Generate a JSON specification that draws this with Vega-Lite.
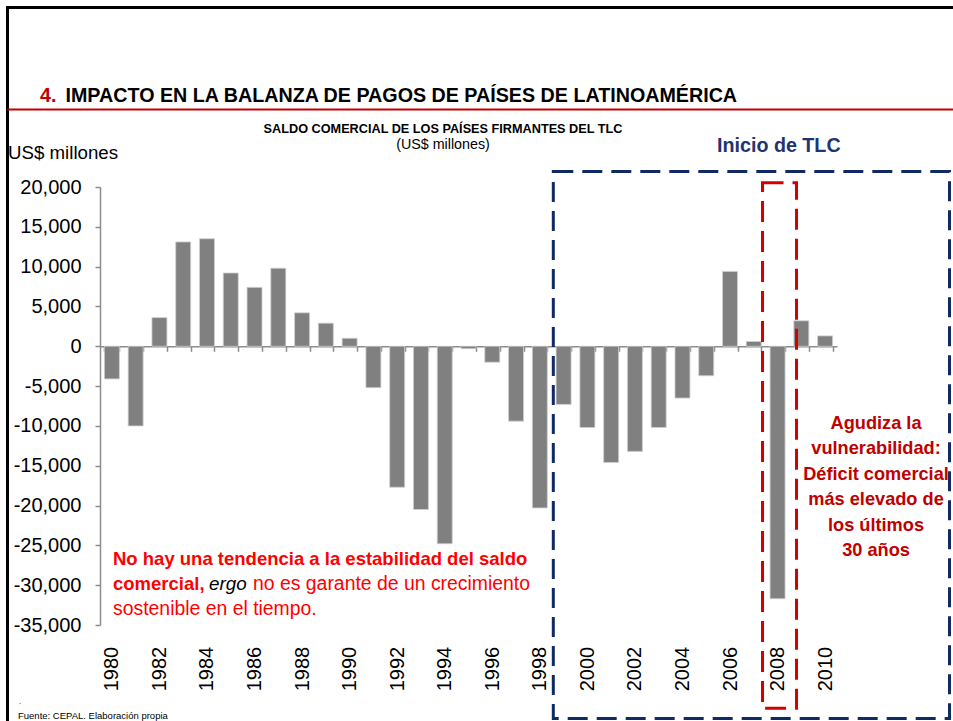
{
  "$schema": "https://vega.github.io/schema/vega-lite/v6.json",
  "width": 737,
  "height": 438,
  "autosize": {"type": "none"},
  "padding": {"left": 100, "top": 187, "right": 116, "bottom": 96},
  "background": "white",
  "config": {
    "view": {"stroke": null},
    "font": "Liberation Sans"
  },
  "resolve": {"scale": {"x": "independent"}, "axis": {"y": "independent"}},
  "layer": [
    {
      "data": {"values": [
        {"year": 1980, "saldo": -4100}, {"year": 1981, "saldo": -10000}, {"year": 1982, "saldo": 3600},
        {"year": 1983, "saldo": 13100}, {"year": 1984, "saldo": 13500}, {"year": 1985, "saldo": 9200},
        {"year": 1986, "saldo": 7400}, {"year": 1987, "saldo": 9800}, {"year": 1988, "saldo": 4200},
        {"year": 1989, "saldo": 2900}, {"year": 1990, "saldo": 1000}, {"year": 1991, "saldo": -5200},
        {"year": 1992, "saldo": -17700}, {"year": 1993, "saldo": -20500}, {"year": 1994, "saldo": -24800},
        {"year": 1995, "saldo": -300}, {"year": 1996, "saldo": -2000}, {"year": 1997, "saldo": -9400},
        {"year": 1998, "saldo": -20300}, {"year": 1999, "saldo": -7300}, {"year": 2000, "saldo": -10200},
        {"year": 2001, "saldo": -14600}, {"year": 2002, "saldo": -13200}, {"year": 2003, "saldo": -10200},
        {"year": 2004, "saldo": -6500}, {"year": 2005, "saldo": -3700}, {"year": 2006, "saldo": 9400},
        {"year": 2007, "saldo": 600}, {"year": 2008, "saldo": -31700}, {"year": 2009, "saldo": 3200},
        {"year": 2010, "saldo": 1300}
      ]},
      "mark": {"type": "bar", "color": "#808080", "stroke": "#cfcfcf", "strokeWidth": 0.8},
      "encoding": {
        "x": {
          "field": "year", "type": "ordinal",
          "scale": {"paddingInner": 0.37, "paddingOuter": 0.185},
          "axis": {
            "title": null, "orient": "bottom", "offset": -278.7,
            "domainColor": "#8c8c8c", "domainWidth": 1.5,
            "tickBand": "extent", "tickSize": 5, "tickColor": "#8c8c8c", "tickWidth": 1.5,
            "labelAngle": -90, "labelAlign": "right", "labelBaseline": "middle",
            "labelFont": "Liberation Sans", "labelFontSize": 20, "labelColor": "black",
            "labelPadding": 295, "labelOverlap": false,
            "labelExpr": "datum.value % 2 == 0 ? datum.label : ''"
          }
        },
        "y": {
          "field": "saldo", "type": "quantitative",
          "scale": {"domain": [-35000, 20000], "nice": false, "zero": false},
          "axis": {
            "title": null, "grid": false, "orient": "left",
            "values": [20000, 15000, 10000, 5000, 0, -5000, -10000, -15000, -20000, -25000, -30000, -35000],
            "format": ",.0f",
            "labelExpr": "replace(datum.label, '\u2212', '-')",
            "labelOverlap": false,
            "domainColor": "#8c8c8c", "domainWidth": 1.5,
            "tickColor": "#8c8c8c", "tickSize": 5, "tickWidth": 1.5,
            "labelFont": "Liberation Sans", "labelFontSize": 20, "labelColor": "black", "labelPadding": 14
          }
        }
      }
    },
    {
      "data": {"values": [{}]},
      "layer": [
        {
          "mark": {"type": "rule", "color": "black", "strokeWidth": 3},
          "encoding": {
            "x": {"datum": 1975.546, "type": "quantitative", "scale": {"domain": [1979.5, 2010.5], "nice": false, "zero": false}, "axis": null},
            "x2": {"datum": 2016.2},
            "y": {"datum": 42540, "type": "quantitative", "axis": null}
          }
        },
        {
          "mark": {"type": "rule", "color": "black", "strokeWidth": 3},
          "encoding": {
            "x": {"datum": 1975.609, "type": "quantitative", "scale": {"domain": [1979.5, 2010.5], "nice": false, "zero": false}, "axis": null},
            "y": {"datum": 42700, "type": "quantitative", "axis": null},
            "y2": {"datum": -47054}
          }
        },
        {
          "mark": {"type": "rule", "color": "#c00000", "strokeWidth": 2},
          "encoding": {
            "x": {"datum": 1975.6, "type": "quantitative", "scale": {"domain": [1979.5, 2010.5], "nice": false, "zero": false}, "axis": null},
            "x2": {"datum": 2016.2},
            "y": {"datum": 29732, "type": "quantitative", "axis": null}
          }
        },
        {
          "mark": {"type": "rect", "fillOpacity": 0, "stroke": "#102a64", "strokeWidth": 3, "strokeDash": [20, 9]},
          "encoding": {
            "x": {"datum": 1998.567, "type": "quantitative", "scale": {"domain": [1979.5, 2010.5], "nice": false, "zero": false}, "axis": null},
            "x2": {"datum": 2015.232},
            "y": {"datum": 21946, "type": "quantitative", "axis": null},
            "y2": {"datum": -46740}
          }
        },
        {
          "mark": {"type": "rect", "fillOpacity": 0, "stroke": "#d40000", "strokeWidth": 3, "strokeDash": [21, 9]},
          "encoding": {
            "x": {"datum": 2007.367, "type": "quantitative", "scale": {"domain": [1979.5, 2010.5], "nice": false, "zero": false}, "axis": null},
            "x2": {"datum": 2008.797},
            "y": {"datum": 20540, "type": "quantitative", "axis": null},
            "y2": {"datum": -45460}
          }
        },
        {
          "mark": {"type": "text", "text": "4.", "font": "Liberation Sans", "fontSize": 19.7, "fontWeight": "bold", "color": "#c00000", "align": "left", "baseline": "alphabetic"},
          "encoding": {
            "x": {"datum": 1976.976, "type": "quantitative", "scale": {"domain": [1979.5, 2010.5], "nice": false, "zero": false}, "axis": null},
            "y": {"datum": 30673, "type": "quantitative", "axis": null}
          }
        },
        {
          "mark": {"type": "text", "text": "IMPACTO EN LA BALANZA DE PAGOS DE PAÍSES DE LATINOAMÉRICA", "font": "Liberation Sans", "fontSize": 19.7, "fontWeight": "bold", "color": "black", "align": "left", "baseline": "alphabetic"},
          "encoding": {
            "x": {"datum": 1978.049, "type": "quantitative", "scale": {"domain": [1979.5, 2010.5], "nice": false, "zero": false}, "axis": null},
            "y": {"datum": 30673, "type": "quantitative", "axis": null}
          }
        },
        {
          "mark": {"type": "text", "text": "SALDO COMERCIAL DE LOS PAÍSES FIRMANTES DEL TLC", "font": "Liberation Sans", "fontSize": 12.7, "fontWeight": "bold", "color": "black", "align": "center", "baseline": "alphabetic"},
          "encoding": {
            "x": {"datum": 1993.928, "type": "quantitative", "scale": {"domain": [1979.5, 2010.5], "nice": false, "zero": false}, "axis": null},
            "y": {"datum": 26781, "type": "quantitative", "axis": null}
          }
        },
        {
          "mark": {"type": "text", "text": "(US$ millones)", "font": "Liberation Sans", "fontSize": 14.3, "color": "black", "align": "center", "baseline": "alphabetic"},
          "encoding": {
            "x": {"datum": 1993.928, "type": "quantitative", "scale": {"domain": [1979.5, 2010.5], "nice": false, "zero": false}, "axis": null},
            "y": {"datum": 24772, "type": "quantitative", "axis": null}
          }
        },
        {
          "mark": {"type": "text", "text": "US$ millones", "font": "Liberation Sans", "fontSize": 18.7, "color": "black", "align": "left", "baseline": "alphabetic"},
          "encoding": {
            "x": {"datum": 1975.63, "type": "quantitative", "scale": {"domain": [1979.5, 2010.5], "nice": false, "zero": false}, "axis": null},
            "y": {"datum": 23516, "type": "quantitative", "axis": null}
          }
        },
        {
          "mark": {"type": "text", "text": "Inicio de TLC", "font": "Liberation Sans", "fontSize": 19.7, "fontWeight": "bold", "color": "#1f3470", "align": "left", "baseline": "alphabetic"},
          "encoding": {
            "x": {"datum": 2005.453, "type": "quantitative", "scale": {"domain": [1979.5, 2010.5], "nice": false, "zero": false}, "axis": null},
            "y": {"datum": 24395, "type": "quantitative", "axis": null}
          }
        },
        {
          "mark": {"type": "text", "text": "No hay una tendencia a la estabilidad del saldo", "font": "Liberation Sans", "fontSize": 18.5, "fontWeight": "bold", "color": "#ff0000", "align": "left", "baseline": "alphabetic"},
          "encoding": {
            "x": {"datum": 1980.047, "type": "quantitative", "scale": {"domain": [1979.5, 2010.5], "nice": false, "zero": false}, "axis": null},
            "y": {"datum": -27465, "type": "quantitative", "axis": null}
          }
        },
        {
          "mark": {"type": "text", "text": "comercial,", "font": "Liberation Sans", "fontSize": 18.5, "fontWeight": "bold", "color": "#ff0000", "align": "left", "baseline": "alphabetic"},
          "encoding": {
            "x": {"datum": 1980.047, "type": "quantitative", "scale": {"domain": [1979.5, 2010.5], "nice": false, "zero": false}, "axis": null},
            "y": {"datum": -30605, "type": "quantitative", "axis": null}
          }
        },
        {
          "mark": {"type": "text", "text": "ergo", "font": "Liberation Sans", "fontSize": 18.8, "fontStyle": "italic", "color": "black", "align": "left", "baseline": "alphabetic"},
          "encoding": {
            "x": {"datum": 1984.085, "type": "quantitative", "scale": {"domain": [1979.5, 2010.5], "nice": false, "zero": false}, "axis": null},
            "y": {"datum": -30605, "type": "quantitative", "axis": null}
          }
        },
        {
          "mark": {"type": "text", "text": "no es garante de un crecimiento", "font": "Liberation Sans", "fontSize": 19.4, "color": "#ff0000", "align": "left", "baseline": "alphabetic"},
          "encoding": {
            "x": {"datum": 1985.936, "type": "quantitative", "scale": {"domain": [1979.5, 2010.5], "nice": false, "zero": false}, "axis": null},
            "y": {"datum": -30605, "type": "quantitative", "axis": null}
          }
        },
        {
          "mark": {"type": "text", "text": "sostenible en el tiempo.", "font": "Liberation Sans", "fontSize": 19.4, "color": "#ff0000", "align": "left", "baseline": "alphabetic"},
          "encoding": {
            "x": {"datum": 1980.047, "type": "quantitative", "scale": {"domain": [1979.5, 2010.5], "nice": false, "zero": false}, "axis": null},
            "y": {"datum": -33744, "type": "quantitative", "axis": null}
          }
        },
        {
          "mark": {"type": "text", "text": ["Agudiza la", "vulnerabilidad:", "Déficit comercial", "más elevado de", "los últimos", "30 años"], "lineHeight": 25.5, "font": "Liberation Sans", "fontSize": 18.2, "fontWeight": "bold", "color": "#c00000", "align": "center", "baseline": "alphabetic"},
          "encoding": {
            "x": {"datum": 2012.141, "type": "quantitative", "scale": {"domain": [1979.5, 2010.5], "nice": false, "zero": false}, "axis": null},
            "y": {"datum": -10388, "type": "quantitative", "axis": null}
          }
        },
        {
          "mark": {"type": "text", "text": "Fuente: CEPAL. Elaboración propia", "font": "Liberation Sans", "fontSize": 9.5, "color": "black", "align": "left", "baseline": "alphabetic"},
          "encoding": {
            "x": {"datum": 1976.051, "type": "quantitative", "scale": {"domain": [1979.5, 2010.5], "nice": false, "zero": false}, "axis": null},
            "y": {"datum": -46803, "type": "quantitative", "axis": null}
          }
        },
        {
          "mark": {"type": "text", "text": ".", "font": "Liberation Sans", "fontSize": 8, "color": "black", "align": "left", "baseline": "alphabetic"},
          "encoding": {
            "x": {"datum": 1976.09, "type": "quantitative", "scale": {"domain": [1979.5, 2010.5], "nice": false, "zero": false}, "axis": null},
            "y": {"datum": -44920, "type": "quantitative", "axis": null}
          }
        }
      ]
    }
  ]
}
